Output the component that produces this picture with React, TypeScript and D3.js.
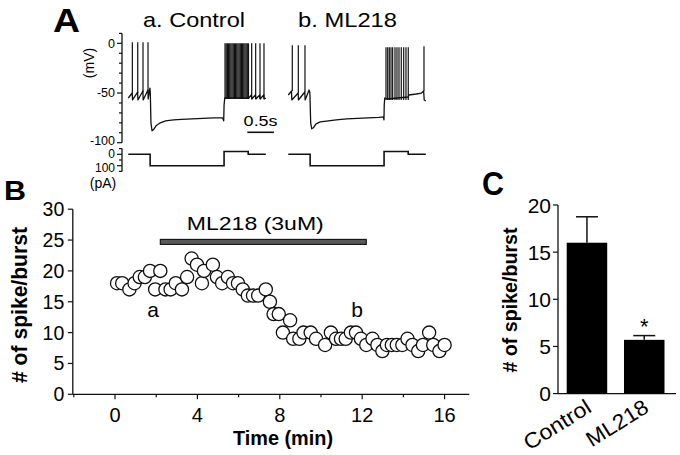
import React from 'react';
import * as d3 from 'd3';

const FONT = "'Liberation Sans', Arial, Helvetica, sans-serif";

// ---------- Panel A: whole-cell traces (time in s, potential in mV, current in pA) ----------
const CTRL_BASE_T = [0, 0.074, 0.079, 0.175, 0.18, 0.274, 0.279, 0.368, 0.373, 0.405, 0.413, 0.425, 0.445, 0.47, 0.52, 0.6, 0.7, 0.85, 1.0, 1.2, 1.4, 1.6, 1.77, 1.79, 1.797, 1.81, 2.26, 2.31, 2.318, 2.385, 2.393, 2.466, 2.474, 2.541, 2.549, 2.58];
const CTRL_BASE_V = [-55, -50, -57, -49, -57, -48, -57, -47, -56, -45, -50, -80, -88, -87, -83, -80, -78, -77, -76.5, -76, -75.5, -75, -75, -78, -62, -55, -55, -52, -56, -52, -56, -52, -56, -52, -56, -55];
const CTRL_SPIKE_T = [0.076, 0.177, 0.276, 0.37, 1.815, 1.837, 1.859, 1.881, 1.903, 1.925, 1.947, 1.969, 1.991, 2.013, 2.035, 2.057, 2.079, 2.101, 2.123, 2.145, 2.167, 2.189, 2.211, 2.233, 2.255, 2.315, 2.39, 2.471, 2.546];
const CTRL_SPIKE_PEAK = [1, 1, 1, 1, 0, 0, 0, 0, 0, 0, 0, 0, 0, 0, 0, 0, 0, 0, 0, 0, 0, 0, 0, 0, 0, 0, 0, 0, 0];
const CTRL_SPIKE_TROUGH = [-50, -50, -49, -48, -56, -56, -56, -56, -56, -56, -56, -56, -56, -56, -56, -56, -56, -56, -56, -56, -56, -56, -56, -56, -56, -56, -56, -56, -56];

const ML_BASE_T = [0, 0.06, 0.066, 0.185, 0.19, 0.31, 0.316, 0.39, 0.405, 0.42, 0.44, 0.47, 0.52, 0.6, 0.75, 0.9, 1.1, 1.3, 1.5, 1.7, 1.785, 1.795, 1.8, 1.81, 1.85, 2.25, 2.26, 2.4, 2.5, 2.54, 2.55, 2.58];
const ML_BASE_V = [-52, -48, -57, -50, -57, -49, -57, -47, -50, -80, -86, -85, -81, -79, -78, -77, -76, -75.5, -75, -74.5, -74, -77, -62, -55, -56, -54, -52, -51, -50, -48, -57, -58];
const ML_SPIKE_T = [0.075, 0.188, 0.313, 1.833, 1.865, 1.895, 1.927, 1.958, 2.002, 2.039, 2.077, 2.12, 2.165, 2.208, 2.251, 2.546];
const ML_SPIKE_PEAK = [-2, -2, -2, -4, -4, -4, -4, -4, -4, -4, -4, -4, -4, -4, -4, -3];
const ML_SPIKE_TROUGH = [-48, -50, -49, -57, -57, -57, -57, -57, -57, -57, -57, -57, -57, -57, -57, -48];

const STIM_T = [0, 0.41, 0.41, 1.797, 1.797, 2.25, 2.25, 2.58];
const STIM_PA = [0, 0, -100, -100, 25, 25, 0, 0];

const MV_TICK_LABELS = ['0', '-50', '-100'];
const MV_TICK_VALUES = [0, -50, -100];
const PA_TICK_LABELS = ['0', '100'];
const PA_TICK_VALUES = [0, -100];
const SCALE_BAR_S = [2.233, 2.733];

// ---------- Panel B: spikes per burst over time ----------
const TIME_MIN = [0.1, 0.35, 0.7, 0.95, 1.2, 1.45, 1.7, 1.95, 2.2, 2.45, 2.7, 2.95, 3.25, 3.5, 3.72, 3.98, 4.22, 4.32, 4.75, 4.95, 5.2, 5.48, 5.73, 5.97, 6.2, 6.45, 6.7, 6.95, 7.32, 7.52, 7.7, 7.95, 8.15, 8.65, 8.5, 8.95, 9.15, 9.5, 9.76, 10.2, 10.48, 10.73, 10.97, 11.2, 11.45, 11.7, 11.94, 12.2, 12.5, 12.74, 12.98, 13.2, 13.44, 13.68, 13.95, 14.2, 14.44, 14.72, 14.95, 15.25, 15.45, 15.75, 16.0];
const SPIKES_PER_BURST = [18, 18, 17, 18, 19, 19, 20, 17, 20, 17, 17, 18, 17, 19, 22, 21, 18, 20, 21, 19, 18, 19, 18, 18, 17, 16, 16, 16, 17, 15, 13, 13, 10, 9, 12, 9, 10, 10, 9, 8, 10, 9, 9, 9, 10, 10, 9, 8, 9, 8, 7, 8, 8, 8, 8, 9, 8, 7, 8, 10, 8, 7, 8];
const B_Y_TICKS = [0, 5, 10, 15, 20, 25, 30];
const B_X_TICKS = [0, 4, 8, 12, 16];
const B_X_MINOR = [-2, 2, 6, 10, 14];
const DRUG = ['ML218 (3uM)'];
const DRUG_START = 2.2;
const DRUG_END = 12.2;
const DRUG_LEVEL = 24.7;
const ANNOT_LABELS = ['a', 'b'];
const ANNOT_T = [1.85, 11.75];
const ANNOT_V = [12.6, 12.6];

// ---------- Panel C: mean spikes per burst ----------
const GROUPS = ['Control', 'ML218'];
const MEANS = [16.0, 5.7];
const SEMS = [2.75, 0.45];
const SIG = ['', '*'];
const C_Y_TICKS = [0, 5, 10, 15, 20];

const INK = '#111';

function Trace({ x, y, baseT, baseV, spT, spPeak, spTrough }: any) {
  const pts = baseT.map((t: number, i: number) => [t, baseV[i]] as [number, number]);
  const line = d3.line<[number, number]>().x(d => x(d[0])).y(d => y(d[1]));
  return (
    <g>
      <path d={line(pts) || ''} fill="none" stroke={INK} strokeWidth={1.3} strokeLinejoin="round" />
      {spT.map((t: number, i: number) => (
        <line key={i} x1={x(t)} x2={x(t)} y1={y(spTrough[i])} y2={y(spPeak[i])} stroke={INK} strokeWidth={1.2} />
      ))}
    </g>
  );
}

function Stim({ x, y }: any) {
  const pts = STIM_T.map((t, i) => [t, STIM_PA[i]] as [number, number]);
  const line = d3.line<[number, number]>().x(d => x(d[0])).y(d => y(d[1]));
  return <path d={line(pts) || ''} fill="none" stroke={INK} strokeWidth={1.6} />;
}

export default function App() {
  // Panel A scales
  const yV = d3.scaleLinear().domain([-100, 10]).range([142.7, 33.4]);
  const yI = d3.scaleLinear().domain([-150, 50]).range([171.4, 148.6]);
  const xCtrl = d3.scaleLinear().domain([0, 2.58]).range([128.3, 265.8]);
  const xMl = d3.scaleLinear().domain([0, 2.58]).range([288.3, 425.8]);
  const axA = 122;
  const mvNudge: Record<number, number> = { 0: 0, [-50]: 0, [-100]: -2.2 };
  const paNudge: Record<number, number> = { 0: -0.3, [-100]: 1.8 };

  // Panel B scales
  const xB = d3.scaleLinear().domain([-2, 17.2]).range([73.8, 469.3]);
  const yB = d3.scaleLinear().domain([0, 30]).range([394.3, 209.2]);
  const axB = 72.8;

  // Panel C scales
  const yC = d3.scaleLinear().domain([0, 20]).range([393.6, 205]);
  const xC = d3.scaleBand<string>().domain(GROUPS).range([558, 673.2]).paddingInner(0.293).paddingOuter(0.152);

  return (
    <svg width={680} height={455} style={{ position: 'fixed', left: 0, top: 0, background: '#fff' }} fontFamily={FONT}>
      <rect x={0} y={0} width={680} height={455} fill="#fff" />

      {/* ---------------- Panel A ---------------- */}
      <text x={53} y={32} fontSize={33} fontWeight="bold" textLength={27} lengthAdjust="spacingAndGlyphs">A</text>
      <text x={143} y={27} fontSize={21} textLength={102} lengthAdjust="spacingAndGlyphs">a. Control</text>
      <text x={298} y={27} fontSize={21} textLength={99} lengthAdjust="spacingAndGlyphs">b. ML218</text>

      <line x1={axA} x2={axA} y1={yV(10)} y2={yV(-100)} stroke={INK} strokeWidth={1.3} />
      {yV.ticks(11).map(v => (
        <line key={v} x1={axA - (v % 50 === 0 ? 5 : 3)} x2={axA} y1={yV(v)} y2={yV(v)} stroke={INK} strokeWidth={1.2} />
      ))}
      {MV_TICK_VALUES.map((v, i) => (
        <text key={v} x={axA - 7} y={yV(v) + mvNudge[v]} dy="0.35em" fontSize={12.5} textAnchor="end">{MV_TICK_LABELS[i]}</text>
      ))}
      <text transform="translate(94,63) rotate(-90)" fontSize={14} textAnchor="middle">(mV)</text>

      <line x1={axA} x2={axA} y1={yI(50)} y2={yI(-150)} stroke={INK} strokeWidth={1.3} />
      {[50, 0, -50, -100, -150].map(v => (
        <line key={v} x1={axA - (v % 100 === 0 ? 5 : 3)} x2={axA} y1={yI(v)} y2={yI(v)} stroke={INK} strokeWidth={1.2} />
      ))}
      {PA_TICK_VALUES.map((v, i) => (
        <text key={v} x={axA - 7} y={yI(v) + paNudge[v]} dy="0.35em" fontSize={12} textAnchor="end">{PA_TICK_LABELS[i]}</text>
      ))}
      <text x={103} y={188} fontSize={14} textAnchor="middle">(pA)</text>

      <Trace x={xCtrl} y={yV} baseT={CTRL_BASE_T} baseV={CTRL_BASE_V} spT={CTRL_SPIKE_T} spPeak={CTRL_SPIKE_PEAK} spTrough={CTRL_SPIKE_TROUGH} />
      <Trace x={xMl} y={yV} baseT={ML_BASE_T} baseV={ML_BASE_V} spT={ML_SPIKE_T} spPeak={ML_SPIKE_PEAK} spTrough={ML_SPIKE_TROUGH} />
      <Stim x={xCtrl} y={yI} />
      <Stim x={xMl} y={yI} />

      <line x1={xCtrl(SCALE_BAR_S[0])} x2={xCtrl(SCALE_BAR_S[1])} y1={132.3} y2={132.3} stroke={INK} strokeWidth={1.6} />
      <text x={(xCtrl(SCALE_BAR_S[0]) + xCtrl(SCALE_BAR_S[1])) / 2} y={126} fontSize={15} textAnchor="middle" textLength={34} lengthAdjust="spacingAndGlyphs">0.5s</text>

      {/* ---------------- Panel B ---------------- */}
      <text x={4} y={200} fontSize={27} fontWeight="bold" textLength={22} lengthAdjust="spacingAndGlyphs">B</text>
      <line x1={axB} x2={axB} y1={yB(0)} y2={yB(30)} stroke={INK} strokeWidth={1.3} />
      <line x1={axB} x2={xB(17.2)} y1={yB(0)} y2={yB(0)} stroke={INK} strokeWidth={1.3} />
      {B_Y_TICKS.map(v => (
        <g key={v}>
          <line x1={axB - 5} x2={axB} y1={yB(v)} y2={yB(v)} stroke={INK} strokeWidth={1.2} />
          <text x={axB - 8.5} y={yB(v)} dy="0.36em" fontSize={19.5} textAnchor="end">{v}</text>
        </g>
      ))}
      {B_X_TICKS.map(v => (
        <g key={v}>
          <line x1={xB(v)} x2={xB(v)} y1={yB(0)} y2={yB(0) + 5} stroke={INK} strokeWidth={1.2} />
          <text x={xB(v)} y={421.5} fontSize={20} textAnchor="middle">{v}</text>
        </g>
      ))}
      {B_X_MINOR.map(v => (
        <line key={v} x1={xB(v)} x2={xB(v)} y1={yB(0)} y2={yB(0) + 3} stroke={INK} strokeWidth={1.2} />
      ))}
      <text x={283} y={445} fontSize={21} fontWeight="bold" textAnchor="middle" textLength={100} lengthAdjust="spacingAndGlyphs">Time (min)</text>
      <text transform="translate(27,305) rotate(-90)" fontSize={22} fontWeight="bold" textAnchor="middle" textLength={156} lengthAdjust="spacingAndGlyphs"># of spike/burst</text>

      <rect x={xB(DRUG_START)} y={yB(DRUG_LEVEL) - 2.5} width={xB(DRUG_END) - xB(DRUG_START)} height={5} fill="#5a5a5a" stroke="#111" strokeWidth={1.1} />
      <text x={(xB(DRUG_START) + xB(DRUG_END)) / 2 - 8} y={230} fontSize={18.5} textAnchor="middle" textLength={137} lengthAdjust="spacingAndGlyphs">{DRUG[0]}</text>

      {TIME_MIN.map((t, i) => (
        <circle key={i} cx={xB(t)} cy={yB(SPIKES_PER_BURST[i])} r={6.6} fill="#fff" stroke={INK} strokeWidth={1.3} />
      ))}
      {ANNOT_LABELS.map((s, i) => (
        <text key={s} x={xB(ANNOT_T[i])} y={yB(ANNOT_V[i])} fontSize={21} textAnchor="middle">{s}</text>
      ))}

      {/* ---------------- Panel C ---------------- */}
      <text x={482} y={195} fontSize={34} fontWeight="bold" textLength={22} lengthAdjust="spacingAndGlyphs">C</text>
      <line x1={558} x2={558} y1={yC(0)} y2={yC(20)} stroke={INK} strokeWidth={1.3} />
      <line x1={558} x2={676} y1={yC(0)} y2={yC(0)} stroke={INK} strokeWidth={1.3} />
      {C_Y_TICKS.map(v => (
        <g key={v}>
          <line x1={553} x2={558} y1={yC(v)} y2={yC(v)} stroke={INK} strokeWidth={1.2} />
          <text x={551} y={yC(v)} dy="0.36em" fontSize={21} textAnchor="end">{v}</text>
        </g>
      ))}
      <text transform="translate(517,300) rotate(-90)" fontSize={20} fontWeight="bold" textAnchor="middle" textLength={145} lengthAdjust="spacingAndGlyphs"># of spike/burst</text>
      {GROUPS.map((g, i) => {
        const x0 = xC(g) as number;
        const w = xC.bandwidth();
        const cx = x0 + w / 2;
        return (
          <g key={g}>
            <line x1={cx} x2={cx} y1={yC(MEANS[i])} y2={yC(MEANS[i] + SEMS[i])} stroke={INK} strokeWidth={1.5} />
            <line x1={cx - 11} x2={cx + 11} y1={yC(MEANS[i] + SEMS[i])} y2={yC(MEANS[i] + SEMS[i])} stroke={INK} strokeWidth={1.5} />
            <rect x={x0} y={yC(MEANS[i])} width={w} height={yC(0) - yC(MEANS[i])} fill="#000" />
            {SIG[i] && <text x={cx} y={yC(MEANS[i] + SEMS[i]) - 2} fontSize={22} textAnchor="middle">{SIG[i]}</text>}
            <text transform={`translate(${cx + 6},411) rotate(-32)`} fontSize={21.5} textAnchor="end" textLength={i === 0 ? 75 : 69} lengthAdjust="spacingAndGlyphs">{g}</text>
          </g>
        );
      })}
    </svg>
  );
}
